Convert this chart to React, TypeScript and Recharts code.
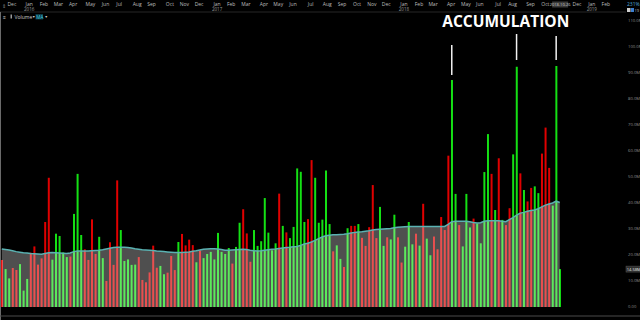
import {
  ComposedChart, Bar, Area, XAxis, YAxis, Cell, ReferenceLine, ReferenceDot,
} from 'recharts';

// weekly volume in millions, Dec 2015 -> Oct 2018
const volume = [
  18.1, 14.6, 11.0, 15.0, 14.2, 16.5, 6.3, 10.8, 20.9, 23.3,
  16.3, 18.7, 32.7, 49.7, 18.2, 28.2, 27.3, 21.0, 19.2, 19.4,
  35.8, 51.2, 27.7, 22.2, 18.1, 33.7, 20.4, 27.0, 18.8, 10.0,
  24.9, 16.2, 48.7, 29.6, 17.7, 18.3, 16.2, 16.3, 19.2, 10.4,
  9.5, 13.3, 23.6, 15.1, 15.8, 12.6, 13.2, 19.6, 14.2, 25.0,
  28.1, 23.7, 25.9, 23.8, 17.2, 21.7, 18.8, 20.4, 21.2, 18.3,
  28.5, 21.2, 20.4, 22.7, 16.7, 23.1, 32.4, 37.6, 28.3, 17.4,
  29.6, 23.5, 25.3, 41.9, 28.6, 21.8, 24.5, 43.6, 31.2, 28.7,
  26.5, 30.8, 53.3, 52.0, 32.7, 33.8, 56.5, 49.7, 32.4, 33.6,
  52.5, 31.9, 21.4, 23.7, 18.5, 15.4, 30.3, 31.2, 31.2, 31.9,
  26.6, 23.5, 30.7, 46.9, 26.5, 38.5, 23.5, 26.8, 26.0, 35.5,
  26.8, 17.1, 23.2, 32.7, 24.1, 28.2, 23.6, 39.7, 26.3, 19.9,
  27.1, 22.2, 34.6, 29.6, 58.2, 87.3, 43.5, 31.5, 23.3, 43.5,
  30.6, 34.0, 32.1, 24.5, 51.9, 66.5, 51.2, 37.3, 57.2, 33.5,
  31.5, 38.0, 58.7, 92.4, 51.4, 45.0, 40.6, 45.8, 46.4, 43.8,
  59.0, 69.0, 53.5, 39.0, 92.7, 14.58,
];

// G = up week, R = down week
const direction = (
  'RGGRRGGGRR' + 'RRRRGGGGGR' + 'GGGRRRRGGR' + 'RRRGGGGGRR' + 'RRRRGGRRRG' +
  'RRRRGRGGGG' + 'GGGGRGGRRR' + 'GGGGGGGRGR' + 'GGGGGRRGGG' + 'GGRGGRGRRG' +
  'RRRRRGGRGG' + 'RRGGGRGRGG' + 'RRRRRGGRGG' + 'GRGGGGRGRG' + 'RRGGRGRRGG' +
  'RRRGGG'
).split('');

// volume moving average
const movingAvg = [
  22.3, 22.1, 21.9, 21.6, 21.3, 21.1, 20.9, 20.8, 20.6, 20.5,
  20.4, 20.3, 20.6, 20.9, 21.0, 20.9, 20.8, 20.7, 20.6, 20.8,
  21.3, 21.5, 21.5, 21.5, 21.5, 21.6, 21.7, 21.8, 22.0, 22.3,
  22.6, 22.9, 23.0, 23.0, 23.0, 22.9, 22.7, 22.4, 22.2, 22.0,
  21.9, 21.8, 21.7, 21.5, 21.4, 21.3, 21.2, 21.1, 21.0, 21.0,
  21.0, 21.1, 21.2, 21.4, 21.6, 21.9, 22.2, 22.3, 22.4, 22.4,
  22.3, 22.1, 21.8, 21.8, 21.9, 22.0, 22.1, 22.2, 22.1, 21.8,
  21.6, 21.5, 21.6, 21.8, 22.0, 22.2, 22.3, 22.5, 22.7, 22.9,
  23.0, 23.2, 23.3, 23.7, 24.2, 24.5, 25.0, 25.6, 26.3, 26.9,
  27.4, 27.6, 27.8, 27.8, 27.9, 28.0, 28.2, 28.5, 28.7, 28.8,
  28.9, 29.1, 29.3, 29.6, 29.8, 29.9, 30.0, 30.1, 30.2, 30.5,
  30.7, 30.8, 30.9, 31.0, 31.0, 31.0, 31.0, 31.0, 31.0, 31.0,
  31.0, 31.0, 31.0, 31.0, 31.8, 32.8, 33.0, 33.0, 33.0, 33.0,
  32.8, 32.5, 32.3, 32.4, 33.0, 33.2, 33.2, 33.2, 33.2, 33.0,
  32.8, 33.6, 34.4, 35.3, 36.1, 36.4, 36.8, 37.1, 37.3, 37.8,
  38.5, 39.2, 39.6, 40.0, 40.7, 40.2,
];

// top time axis (week index positions)
const monthPos = [
  2.8, 7.6, 11.7, 15.7, 19.8, 24.6, 28.8, 32.6, 37.6, 41.6, 46.7, 50.7,
  54.8, 59.8, 63.7, 67.8, 72.8, 76.8, 80.9, 85.8, 90.4, 94.5, 98.7, 102.8,
  106.8, 111.7, 115.9, 119.8, 124.8, 128.9, 132.8, 137.9, 141.9, 146.9, 151.0,
  155.1, 159.8, 163.9, 167.8,
];
const monthNames = [
  'Dec', 'Jan', 'Feb', 'Mar', 'Apr', 'May', 'Jun', 'Jul', 'Aug', 'Sep', 'Oct', 'Nov',
  'Dec', 'Jan', 'Feb', 'Mar', 'Apr', 'May', 'Jun', 'Jul', 'Aug', 'Sep', 'Oct', 'Nov',
  'Dec', 'Jan', 'Feb', 'Mar', 'Apr', 'May', 'Jun', 'Jul', 'Aug', 'Sep', 'Oct',
  '2018-10-26', 'Dec', 'Jan', 'Feb',
];
const yearUnder: Record<string, string> = { 1: '2016', 13: '2017', 25: '2018', 37: '2019' };

const yTicks = [0, 10, 20, 30, 40, 50, 60, 70, 80, 90, 100, 110];

// accumulation markers: bar index + segment range (M)
const markers = [
  { i: 125, from: 89.2, to: 100.8 },
  { i: 143, from: 95.0, to: 105.0 },
  { i: 154, from: 95.0, to: 104.2 },
];

const GREEN = '#14e014';
const RED = '#e00000';

function MonthTick({ x, payload }: any) {
  const idx = monthPos.indexOf(payload.value);
  const label = monthNames[idx];
  if (label && label.includes('-')) {
    return (
      <g>
        <rect x={x - 8} y={1.5} width={16} height={6} fill="#3a3a3a" />
        <text x={x} y={6} fontSize={4} fill="#cfcfcf" textAnchor="middle">{label}</text>
      </g>
    );
  }
  return (
    <g>
      <text x={x} y={5.5} fontSize={5} fill="#bdbdbd" textAnchor="middle">{label}</text>
      {yearUnder[idx] && (
        <text x={x} y={10.5} fontSize={4.5} fill="#9a9a9a" textAnchor="middle">{yearUnder[idx]}</text>
      )}
    </g>
  );
}

export default function App() {
  const rows = volume.map((v, i) => ({ i, v, ma: movingAvg[i] }));
  const last = volume[volume.length - 1];

  return (
    <div style={{
      position: 'absolute', left: 0, top: 0, width: 640, height: 320,
      background: '#000', fontFamily: '"Open Sans", sans-serif', overflow: 'hidden',
    }}>
      <ComposedChart width={640} height={320} data={rows} margin={{ top: 0, right: 0, bottom: 13, left: 0 }}>
        <XAxis
          dataKey="i" type="number" orientation="top" domain={[-0.5, 173.4]} allowDataOverflow
          ticks={monthPos} interval={0} height={12} tick={<MonthTick />}
          tickLine={false} axisLine={{ stroke: '#262626' }}
        />
        <YAxis
          orientation="right" width={14} domain={[0, 113.46]} allowDataOverflow ticks={yTicks}
          tickFormatter={(v) => (v === 0 ? '0.00' : `${v}.0M`)}
          tick={{ fontSize: 4.2, fill: '#8f8f8f' }} tickSize={0} tickMargin={2}
          axisLine={false} tickLine={false}
        />
        <Bar dataKey="v" barSize={2} isAnimationActive={false}>
          {rows.map((r, i) => (
            <Cell key={i} fill={direction[i] === 'G' ? GREEN : RED} />
          ))}
        </Bar>
        <Area
          dataKey="ma" type="linear" stroke="#5ab2b2" strokeWidth={1.5}
          fill="#ffffff" fillOpacity={0.31} isAnimationActive={false} zIndex={350}
        />
        {markers.map((m) => (
          <ReferenceLine
            key={m.i}
            segment={[{ x: m.i, y: m.from }, { x: m.i, y: m.to }]}
            stroke="#f2f2f2" strokeWidth={1.5}
          />
        ))}
        <ReferenceDot
          x={140} y={110} r={0} fill="none" stroke="none"
          label={(p: any) => (
            <text
              x={p.viewBox.x + (p.viewBox.width || 0) / 2} y={p.viewBox.y + 6.5}
              textAnchor="middle" fontSize={15.5} fontWeight={700} fill="#ffffff"
              fontFamily='"Open Sans", sans-serif'
            >
              ACCUMULATION
            </text>
          )}
        />
        <ReferenceDot
          x={173.4} y={last} r={0} fill="none" stroke="none"
          label={(p: any) => (
            <g>
              <rect x={p.viewBox.x} y={p.viewBox.y - 3} width={14} height={6} fill="#2e2e2e" stroke="#555" strokeWidth={0.5} />
              <text x={p.viewBox.x + 0.8} y={p.viewBox.y + 1.6} fontSize={4} fill="#eeeeee">
                {`${last.toFixed(2)}M`}
              </text>
            </g>
          )}
        />
      </ComposedChart>

      <svg width={640} height={320} style={{ position: 'absolute', left: 0, top: 0, pointerEvents: 'none' }}>
        <line x1={0.5} y1={12} x2={0.5} y2={320} stroke="#6a6a6a" strokeWidth={1} />
        <line x1={0} y1={316} x2={640} y2={316} stroke="#4a4a4a" strokeWidth={1} />
        <text x={2} y={8} fontSize={5} fill="#8a8a8a">⇕</text>
        <g fontSize={5} fill="#cccccc">
          <text x={3} y={18.5}>≡</text>
          <rect x={10.5} y={14.5} width={1.5} height={4} fill="#9a9a9a" />
          <text x={14.5} y={18.5}>Volume</text>
          <text x={32} y={18} fontSize={3.5}>▼</text>
          <rect x={35.5} y={14} width={7.5} height={5.5} fill="#0e3c48" />
          <text x={36.3} y={18.5} fill="#3fd0e0" fontSize={4.6}>MA</text>
          <text x={44.5} y={18} fontSize={3.5}>▼</text>
        </g>
        <text x={627} y={6} fontSize={5} fill="#4fa9d8">231%</text>
        <rect x={627} y={8} width={3.5} height={4} fill="#cfcfcf" />
        <rect x={631} y={8} width={3} height={4} fill="#3c7fd0" />
        <text x={634.5} y={11.5} fontSize={4} fill="#bdbdbd">19</text>
      </svg>
    </div>
  );
}
